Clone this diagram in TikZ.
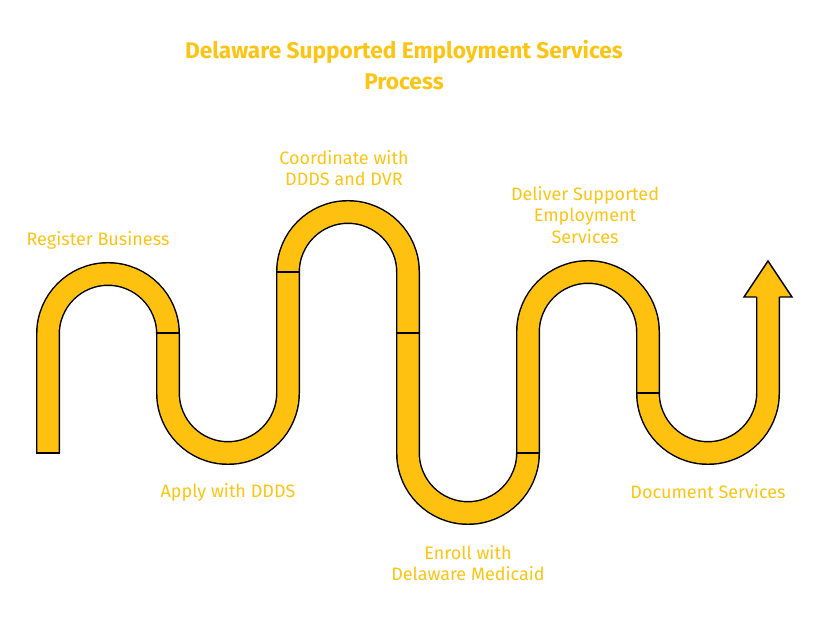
\documentclass[tikz,border=0pt]{standalone}
\usepackage{fontspec}
\setmainfont{Fira Sans}
\definecolor{snakeYellow}{RGB}{254,193,16}
\definecolor{textYellow}{RGB}{252,196,20}
\tikzset{every picture/.style={line width=0.75pt}}
\tikzset{
  band/.style={draw=black, line width=1.1pt, double=snakeYellow, double distance=15.8pt},
  step label/.style={text=textYellow, inner sep=0.75pt, align=center, font=\fontsize{13.5}{16}\selectfont},
}

\begin{document}
\begin{tikzpicture}[x=0.75pt,y=0.75pt,yscale=-1,xscale=1]
        \useasboundingbox (0,0) rectangle (822,634);
        %Snake Band
        \draw [band] (48,453) -- (48,334) arc [start angle=180, end angle=360, radius=60] -- (168,393) arc [start angle=180, end angle=0, radius=60] -- (288,272) arc [start angle=180, end angle=360, radius=60] -- (408,453) arc [start angle=180, end angle=0, radius=60] -- (528,332) arc [start angle=180, end angle=360, radius=60] -- (648,393) arc [start angle=180, end angle=0, radius=60] -- (768,297) ;
        %Arrow Head
        \draw [fill=snakeYellow, line width=1.1pt, line join=miter] (756.6,297) -- (744,297) -- (768,261) -- (792,297) -- (779.4,297) ;
        %Band End and Dividers
        \draw [line width=1.1pt] (36,453) -- (60,453) ;
        \draw [line width=1.1pt] (156,333) -- (180,333) ;
        \draw [line width=1.1pt] (276,272) -- (300,272) ;
        \draw [line width=1.1pt] (396,333) -- (420,333) ;
        \draw [line width=1.1pt] (516,453) -- (540,453) ;
        \draw [line width=1.1pt] (636,393) -- (660,393) ;

        % Text Node
        \node (title) [text=textYellow, align=center, font=\bfseries\fontsize{17}{23}\selectfont] at (404,65) {Delaware Supported Employment Services\\Process};
        % Text Node
        \node (register) [step label, anchor=west] at (25,240) {Register Business};
        % Text Node
        \node (apply) [step label] at (228,492) {Apply with DDDS};
        % Text Node
        \node (coordinate) [step label] at (344,168) {Coordinate with\\DDDS and DVR};
        % Text Node
        \node (enroll) [step label] at (468,563) {Enroll with\\Delaware Medicaid};
        % Text Node
        \node (deliver) [step label] at (585,215) {Deliver Supported\\Employment\\Services};
        % Text Node
        \node (document) [step label] at (708,492) {Document Services};
\end{tikzpicture}
\end{document}
